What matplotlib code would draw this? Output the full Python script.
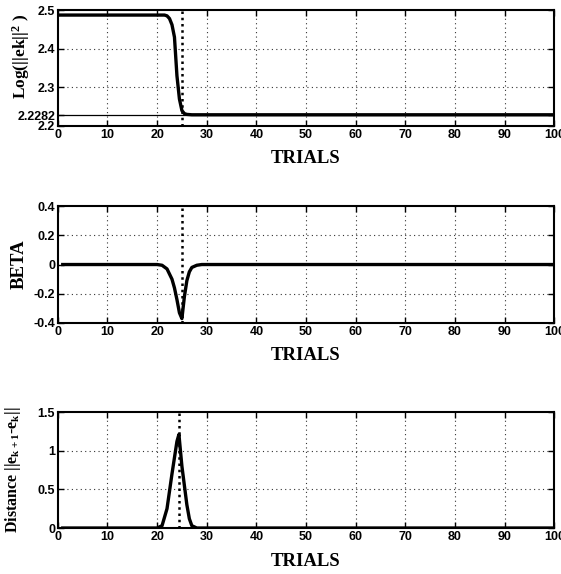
import matplotlib
matplotlib.use("Agg")
import matplotlib.pyplot as plt

plt.rcParams['mathtext.fontset'] = 'custom'
plt.rcParams['mathtext.rm'] = 'Liberation Serif:bold'
plt.rcParams['mathtext.it'] = 'Liberation Serif:bold'
plt.rcParams['mathtext.bf'] = 'Liberation Serif:bold'

# ---- data ----
log_trials = [0, 21.5, 22, 22.5, 23, 23.5, 24, 24.5, 25, 25.5, 26, 27, 100]
log_err = [2.487, 2.487, 2.485, 2.478, 2.462, 2.43, 2.33, 2.27, 2.24, 2.232, 2.230, 2.229, 2.229]
log_final = 2.2282
log_marker_trial = 25

beta_trials = [1, 20, 21, 22, 23, 23.5, 24, 24.5, 25, 25.5, 26, 26.5, 27, 28, 29, 100]
beta = [0.0, 0.0, -0.005, -0.03, -0.10, -0.16, -0.24, -0.33, -0.37, -0.22, -0.11, -0.05, -0.02, -0.005, 0.0, 0.0]
beta_marker_trial = 25

dist_trials = [1, 20, 21, 22, 23, 24, 24.4, 25, 26, 26.5, 27, 28, 100]
dist = [0.0, 0.0, 0.03, 0.25, 0.70, 1.12, 1.21, 0.80, 0.30, 0.12, 0.03, 0.0, 0.0]
dist_marker_trial = 24.4

xticks = [0, 10, 20, 30, 40, 50, 60, 70, 80, 90, 100]
log_yticks = [2.2, 2.2282, 2.3, 2.4, 2.5]
log_yticklabels = ['2.2', '2.2282', '2.3', '2.4', '2.5']
beta_yticks = [-0.4, -0.2, 0, 0.2, 0.4]
beta_yticklabels = ['-0.4', '-0.2', '0', '0.2', '0.4']
dist_yticks = [0, 0.5, 1, 1.5]
dist_yticklabels = ['0', '0.5', '1', '1.5']

fig = plt.figure(figsize=(5.61, 5.74), dpi=100)
left, width = 0.103, 0.885
ax1 = fig.add_axes([left, 0.7805, width, 0.202])
ax2 = fig.add_axes([left, 0.4373, width, 0.2037])
ax3 = fig.add_axes([left, 0.0801, width, 0.2021])

tickfont = dict(family='Liberation Sans', weight='bold', size=9)
labfont = dict(family='Liberation Serif', weight='bold')

def style(ax, yticks, ylabels, ylim, gridy):
    ax.set_xlim(0, 100)
    ax.set_ylim(*ylim)
    ax.set_xticks(xticks)
    ax.set_xticklabels([str(t) for t in xticks], fontdict=tickfont)
    ax.set_yticks(yticks)
    ax.set_yticklabels(ylabels, fontdict=tickfont)
    for t in xticks[1:-1]:
        ax.axvline(t, color='#333333', lw=0.8, ls=(0, (1, 3)), zorder=1)
    for g in gridy:
        ax.axhline(g, color='#333333', lw=0.8, ls=(0, (1, 3)), zorder=1)
    for s in ax.spines.values():
        s.set_linewidth(1.5)
    ax.tick_params(direction='in', length=4, width=1, pad=2, top=True, right=True)
    ax.set_xlabel('TRIALS', fontsize=13.5, labelpad=7, **labfont)

# plot 1
ax1.plot(log_trials, log_err, color='black', lw=2.4, zorder=3)
ax1.axhline(log_final, color='black', lw=0.9, zorder=2)
ax1.axvline(log_marker_trial, color='black', lw=1.8, ls=(0, (1, 1.5)), zorder=4)
style(ax1, log_yticks, log_yticklabels, (2.2, 2.5), [2.3, 2.4])
ax1.set_ylabel(r'Log(||ek||$^{2}$ )', fontsize=12.5, **labfont)
ax1.yaxis.set_label_coords(-0.052, 0.6)

# plot 2
ax2.plot(beta_trials, beta, color='black', lw=2.4, zorder=3)
ax2.axvline(beta_marker_trial, color='black', lw=1.8, ls=(0, (1, 1.5)), zorder=4)
style(ax2, beta_yticks, beta_yticklabels, (-0.4, 0.4), [-0.2, 0.2])
ax2.set_ylabel('BETA', fontsize=13.5, **labfont)
ax2.yaxis.set_label_coords(-0.06, 0.5)

# plot 3
ax3.plot(dist_trials, dist, color='black', lw=2.4, zorder=3)
ax3.axvline(dist_marker_trial, color='black', lw=1.8, ls=(0, (1, 1.5)), zorder=4)
style(ax3, dist_yticks, dist_yticklabels, (0, 1.5), [0.5, 1.0])
ax3.set_ylabel(r'Distance ||e$_{k+1}$-e$_{k}$||', fontsize=11.5, **labfont)
ax3.yaxis.set_label_coords(-0.07, 0.5)

fig.savefig('out.png', dpi=100)
